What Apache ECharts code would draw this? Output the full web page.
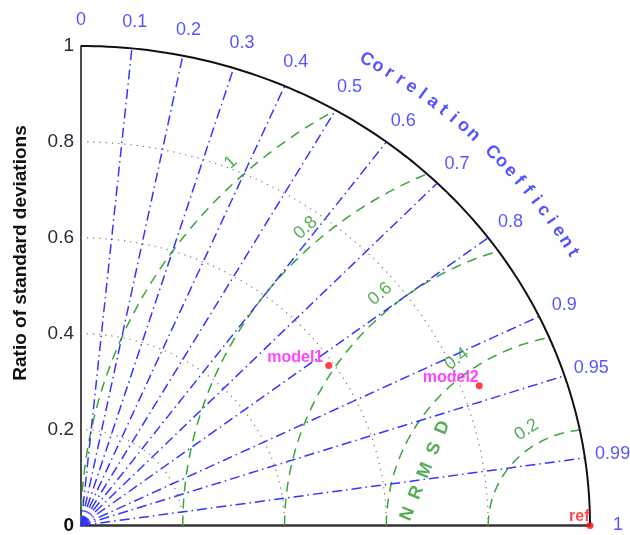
<!DOCTYPE html>
<html>
<head>
<meta charset="utf-8">
<script src="https://cdn.jsdelivr.net/npm/echarts@6/dist/echarts.min.js"></script>
<style>
html,body{margin:0;padding:0;background:#fff}
#chart{width:630px;height:535px}
</style>
</head>
<body>
<div id="chart"></div>
<script>
// Taylor diagram data
var corrTicks = [0, 0.1, 0.2, 0.3, 0.4, 0.5, 0.6, 0.7, 0.8, 0.9, 0.95, 0.99, 1];
var corrTickLabels = ['0', '0.1', '0.2', '0.3', '0.4', '0.5', '0.6', '0.7', '0.8', '0.9', '0.95', '0.99', '1'];
var corrLines = [0.1, 0.2, 0.3, 0.4, 0.5, 0.6, 0.7, 0.8, 0.9, 0.95, 0.99];
var stdArcs = [0.2, 0.4, 0.6, 0.8];
var stdTickLabels = ['0', '0.2', '0.4', '0.6', '0.8', '1'];
var rmsArcs = [0.2, 0.4, 0.6, 0.8, 1];
var rmsLabels = ['0.2', '0.4', '0.6', '0.8', '1'];
var models = ['model1', 'model2', 'ref'];
var modelCorr = [0.825, 0.937, 1];
var modelStd = [0.59, 0.835, 1];
var corrTitle = 'Correlation Coefficient';

var font = "'Liberation Sans', Arial, sans-serif";
var blue = '#2a2aff';
var green = '#2e9a2e';

function xy(r, deg) {
    var a = deg * Math.PI / 180;
    return [r * Math.cos(a), r * Math.sin(a)];
}
function arc(r, cx, from, to) {
    var pts = [];
    for (var i = 0; i <= 120; i++) {
        var p = xy(r, from + (to - from) * i / 120);
        pts.push([cx + p[0], p[1]]);
    }
    return pts;
}
function cdeg(c) { return Math.acos(c) * 180 / Math.PI; }

var series = [];

// std dev arcs (dotted grey)
stdArcs.forEach(function (r) {
    series.push({
        type: 'line', data: arc(r, 0, 0, 90), showSymbol: false, silent: true, z: 1,
        lineStyle: { color: '#777', width: 1.2, type: [1.2, 5] }
    });
});

// NRMSD arcs centred on ref, clipped at std = 1
rmsArcs.forEach(function (r) {
    series.push({
        type: 'line', data: arc(r, 1, 180, cdeg(-r / 2)), showSymbol: false, silent: true, z: 2,
        lineStyle: { color: '#3aa63a', width: 1.5, type: [10, 7] }
    });
});

// correlation rays
corrLines.forEach(function (c) {
    series.push({
        type: 'line', data: [[0, 0], xy(1, cdeg(c))], showSymbol: false, silent: true, z: 3,
        lineStyle: { color: '#3535ff', width: 1.5, type: [10, 4, 1.5, 4] }
    });
});

// outer arc
series.push({
    type: 'line', data: arc(1, 0, 0, 90), showSymbol: false, silent: true, z: 4,
    lineStyle: { color: '#111', width: 2 }
});

// text placed along the diagram
var texts = [];
corrTicks.forEach(function (c, i) {
    var p = xy(1.055, cdeg(c));
    texts.push({ name: corrTickLabels[i], value: p,
        label: { color: blue, fontSize: 18 } });
});

// curved axis title
var tStart = 60, tEnd = 30.5;
for (var k = 0; k < corrTitle.length; k++) {
    var ch = corrTitle.charAt(k);
    if (ch === ' ') continue;
    var d = tStart + (tEnd - tStart) * k / (corrTitle.length - 1);
    texts.push({ name: ch, value: xy(1.122, d),
        label: { color: blue, fontSize: 18, fontWeight: 'bold', rotate: d - 90 } });
}

// NRMSD arc labels
var rmsLabelAngle = { '0.2': 122, '0.4': 127, '0.6': 130.5, '0.8': 132, '1': 133 };
rmsArcs.forEach(function (r, i) {
    var a = rmsLabelAngle[rmsLabels[i]];
    var p = xy(r + 0.035, a);
    texts.push({ name: rmsLabels[i], value: [1 + p[0], p[1]],
        label: { color: green, fontSize: 18, rotate: a - 90 } });
});
texts.push({ name: 'N  R  M  S  D', value: [0.676, 0.114],
    label: { color: green, fontSize: 18, fontWeight: 'bold', rotate: 68 } });

series.push({
    type: 'scatter', data: texts, symbolSize: 0, clip: false, silent: true, z: 5,
    label: { show: true, position: 'inside', formatter: '{b}', fontFamily: font,
        align: 'center', verticalAlign: 'middle' }
});

// models
var pts = models.map(function (m, i) {
    var p = xy(modelStd[i], cdeg(modelCorr[i]));
    return {
        name: m, value: p,
        label: m === 'ref'
            ? { color: '#ff1a1a', offset: [5, -9] }
            : { color: '#ff14ff', offset: [m === 'model2' ? 5 : 0, -8] }
    };
});
series.push({
    type: 'scatter', data: pts, symbolSize: 7, clip: false, z: 6,
    itemStyle: { color: '#ff1010' },
    label: { show: true, position: 'left', distance: 2, formatter: '{b}',
        fontFamily: font, fontSize: 16, fontWeight: 'bold' }
});

var chart = echarts.init(document.getElementById('chart'));
chart.setOption({
    animation: false,
    backgroundColor: '#fff',
    grid: { left: 81, top: 46, right: 40, bottom: 8 },
    xAxis: {
        type: 'value', min: 0, max: 1,
        axisLine: { show: true, onZero: false, lineStyle: { color: '#333', width: 2.5 } },
        axisTick: { show: false }, axisLabel: { show: false }, splitLine: { show: false }
    },
    yAxis: {
        type: 'value', min: 0, max: 1, interval: 0.2,
        axisLine: { show: true, lineStyle: { color: '#111', width: 1.5 } },
        axisTick: { show: false }, splitLine: { show: false },
        axisLabel: {
            color: '#2a2a3a', fontSize: 19, fontFamily: font, margin: 7,
            formatter: function (v) {
                var s = stdTickLabels[Math.round(v * 5)];
                return v === 0 ? '{b|' + s + '}' : s;
            },
            rich: { b: { fontWeight: 'bold', fontSize: 19, color: '#111', fontFamily: font } }
        }
    },
    graphic: [{
        type: 'text', x: 21, y: 253, rotation: Math.PI / 2,
        style: { text: 'Ratio of standard deviations', font: 'bold 19px ' + font,
            fill: '#111', align: 'center', verticalAlign: 'middle' }
    }],
    series: series
});
</script>
</body>
</html>
